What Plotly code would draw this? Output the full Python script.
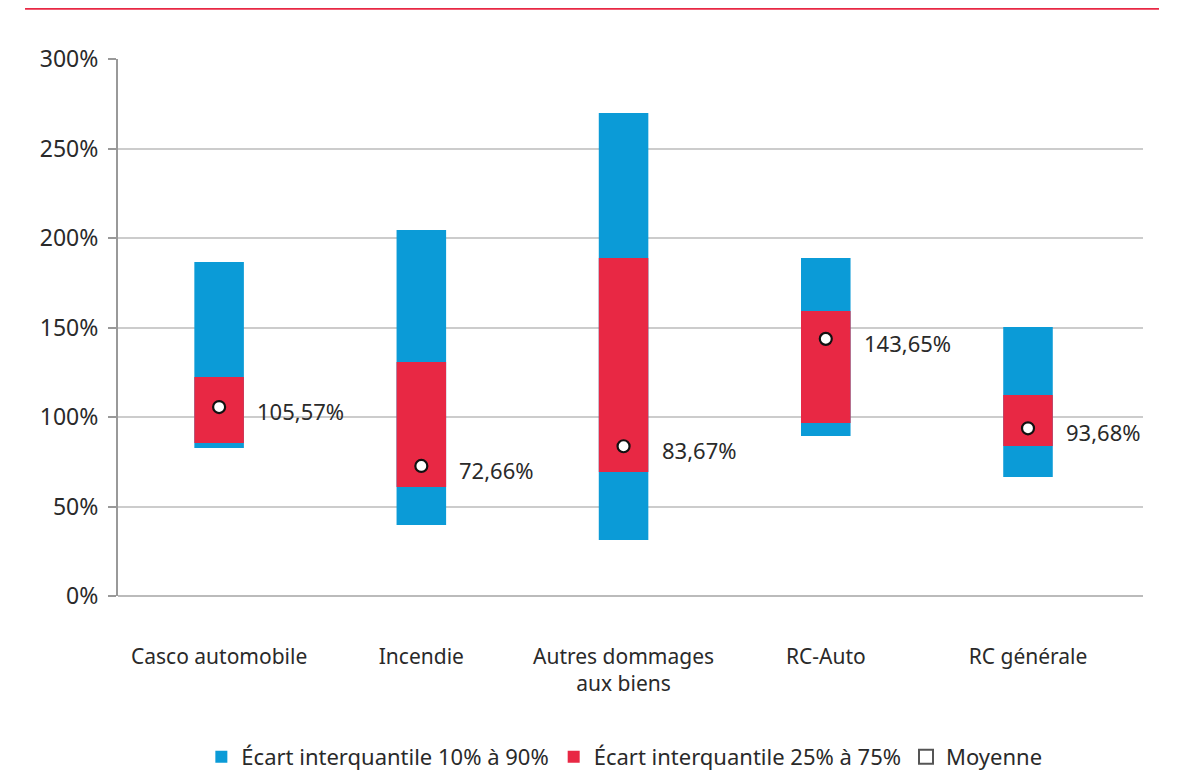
import plotly.graph_objects as go

categories = ["Casco automobile", "Incendie", "Autres dommages<br>aux biens", "RC-Auto", "RC générale"]
p10 = [82.7, 39.7, 31.3, 89.4, 66.5]
p90 = [186.6, 204.5, 269.8, 188.8, 150.3]
p25 = [85.5, 60.9, 69.3, 96.6, 83.8]
p75 = [122.3, 130.7, 188.8, 159.2, 112.3]
means = [105.57, 72.66, 83.67, 143.65, 93.68]
mean_labels = ["105,57%", "72,66%", "83,67%", "143,65%", "93,68%"]

BLUE = "#0b9bd7"
RED = "#e82844"
FONT = "Noto Sans, sans-serif"

fig = go.Figure()

# 10-90 range
fig.add_trace(go.Bar(
    x=categories, y=[b - a for a, b in zip(p10, p90)], base=p10,
    marker=dict(color=BLUE, line=dict(width=0)), width=0.245,
    name="Écart interquantile 10% à 90%",
))
# 25-75 range
fig.add_trace(go.Bar(
    x=categories, y=[b - a for a, b in zip(p25, p75)], base=p25,
    marker=dict(color=RED, line=dict(width=0)), width=0.245,
    name="Écart interquantile 25% à 75%",
))
# mean points
fig.add_trace(go.Scatter(
    x=categories, y=means, mode="markers", showlegend=False,
    marker=dict(symbol="circle", size=12, color="white", line=dict(color="#111111", width=2.2)),
    name="Moyenne",
))
# legend entry for the mean (outline square in the original)
fig.add_trace(go.Scatter(
    x=[None], y=[None], mode="markers", name="Moyenne",
    marker=dict(symbol="square", size=14, color="white", line=dict(color="#555555", width=2)),
))

for c, m, lab in zip(categories, means, mean_labels):
    fig.add_annotation(x=c, y=m, text=lab, showarrow=False, xanchor="left",
                       xshift=36, yshift=-4, font=dict(size=22, color="#2a2a2a", family=FONT))

# red rule at top
fig.add_shape(type="line", xref="paper", yref="paper", x0=-0.0907, x1=1.0156,
              y0=1.094, y1=1.094, line=dict(color=RED, width=2.5))

fig.update_layout(
    width=1183, height=773,
    margin=dict(l=110, r=48, t=51, b=185),
    barmode="overlay",
    plot_bgcolor="white", paper_bgcolor="white",
    font=dict(family=FONT, size=21, color="#2a2a2a"),
    showlegend=True,
    legend=dict(orientation="h", x=0.494, xanchor="center", yref="container", y=0.031,
                yanchor="middle", font=dict(size=22), itemwidth=30, traceorder="normal"),
    xaxis=dict(showgrid=False, showline=False, ticks="", ticklabelstandoff=46,
               tickfont=dict(size=21), automargin=False),
    yaxis=dict(range=[0, 300], dtick=50, ticksuffix="%", showgrid=True, gridcolor="#cccccc",
               gridwidth=1.5, zeroline=True, zerolinecolor="#bbbbbb", zerolinewidth=1.5,
               showline=True, linecolor="#999999", linewidth=2,
               ticks="outside", ticklen=8, tickcolor="#999999", tickwidth=1.5,
               ticklabelstandoff=5, tickfont=dict(size=23), automargin=False),
)

fig.write_html("out.html")
